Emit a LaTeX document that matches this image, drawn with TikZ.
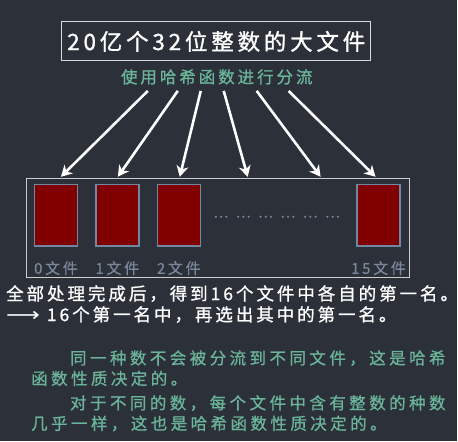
\documentclass[tikz,border=0pt]{standalone}
\usepackage{fontspec}
\usepackage{graphicx}
\setmainfont{Noto Sans CJK SC}
\newfontfamily\arrowfont{DejaVu Sans}
\usetikzlibrary{arrows.meta,positioning}
\definecolor{bgdark}{HTML}{2C3139}
\definecolor{hashgreen}{HTML}{6BB49A}
\definecolor{labelgray}{HTML}{7A8699}
\definecolor{filered}{HTML}{800000}
\definecolor{fileedge}{HTML}{7088A4}
\begin{document}
\begin{tikzpicture}[x=1pt,y=-1pt,
    every node/.style={inner sep=0pt},
    redfile/.style={draw=fileedge,fill=filered,line width=1.5pt,minimum width=43pt,minimum height=62pt},
    filelabel/.style={text=labelgray,font=\fontsize{15}{15}\selectfont\addfontfeatures{LetterSpace=18,FakeBold=0.6}},
    flow/.style={white,line width=2.6pt,-{Stealth[length=11pt,width=12pt,inset=3.5pt]}},
    whitetext/.style={text=white,anchor=west,font=\fontsize{17.5}{17.5}\selectfont\addfontfeatures{LetterSpace=17,FakeBold=1}},
    greentext/.style={text=hashgreen,anchor=north west,align=left,font=\fontsize{16.5}{20.5}\selectfont\addfontfeatures{LetterSpace=21,FakeBold=0.8}}]
    \fill [bgdark] (0,0) rectangle (458,442);
    % title and hash
    \node [draw=white!85!black,line width=1pt,minimum width=309pt,minimum height=39pt,text=white,
        font=\fontsize{22.5}{22.5}\selectfont\addfontfeatures{LetterSpace=17,FakeBold=1.2}] (title) at (216.5,41.5) {20亿个32位整数的大文件};
    \node [text=hashgreen,font=\fontsize{16.5}{16.5}\selectfont\addfontfeatures{LetterSpace=18,FakeBold=1}] (hash) at (217,77) {使用哈希函数进行分流};
    % the 16 files
    \node [draw=white!80!black,line width=1pt,minimum width=383pt,minimum height=99pt] (bin) at (218.5,228.5) {};
    \node [redfile] (f0) at (56,215.5) {};
    \node [redfile] (f1) at (117.5,215.5) {};
    \node [redfile] (f2) at (179,215.5) {};
    \node [redfile] (f15) at (379,215.5) {};
    \node [text=labelgray,font=\fontsize{14}{14}\selectfont\addfontfeatures{FakeBold=1.2}] (dots) at (277,217)
        {…\hspace{7.5pt}…\hspace{7.5pt}…\hspace{7.5pt}…\hspace{7.5pt}…\hspace{7.5pt}…};
    \node [filelabel,below=14pt of f0] (l0) {0文件};
    \node [filelabel,below=14pt of f1] (l1) {1文件};
    \node [filelabel,below=14pt of f2] (l2) {2文件};
    \node [filelabel,below=14pt of f15] (l15) {15文件};
    % flows
    \foreach \i/\sx/\tx in {1/148/61,2/178/118,3/201/180,4/224/248,5/257/321,6/289/376}{
        \coordinate (s\i) at (\sx,91);
        \coordinate (t\i) at (\tx,177);
        \draw [flow] (s\i) -- (t\i);
    }
    % results
    \node [whitetext] (res1) at (6,294) {全部处理完成后，得到16个文件中各自的第一名。};
    \node [whitetext] (res2) at (6,315) {{\arrowfont\scalebox{1.35}[1.1]{⟶}} 16个第一名中，再选出其中的第一名。};
    \node [greentext] (note1) at (31,350.5) {\hspace*{39pt}同一种数不会被分流到不同文件，这是哈希\\函数性质决定的。};
    \node [greentext] (note2) at (31,395.5) {\hspace*{39pt}对于不同的数，每个文件中含有整数的种数\\几乎一样，这也是哈希函数性质决定的。};
\end{tikzpicture}
\end{document}
